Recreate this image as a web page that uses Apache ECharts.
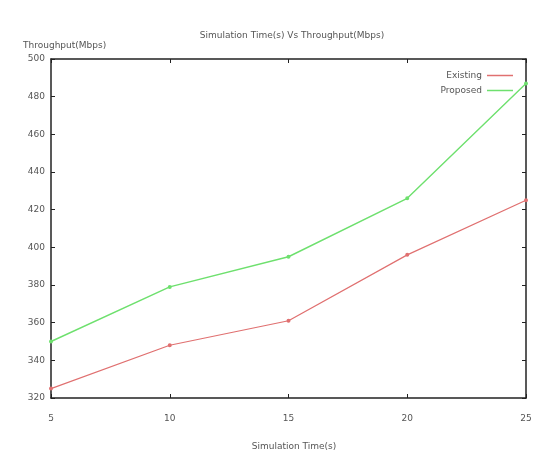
<!DOCTYPE html>
<html>
<head>
<meta charset="utf-8">
<script src="https://cdn.jsdelivr.net/npm/echarts@6/dist/echarts.min.js"></script>
<style>
  html, body { margin: 0; padding: 0; background: #fff; }
  #chart { width: 542px; height: 453px; }
</style>
</head>
<body>
<div id="chart"></div>
<script>
const simTime = [5, 10, 15, 20, 25]
const existing = [325, 348, 361, 396, 425]
const proposed = [350, 379, 395, 426, 487]

const labelColor = '#555'
const fontFamily = 'DejaVu Sans'

const chart = echarts.init(document.getElementById('chart'))

const pairs = (ys) => simTime.map((x, i) => [x, ys[i]])

const hiddenAxis = {
  axisLine: { show: false },
  axisLabel: { show: false },
  splitLine: { show: false },
  axisTick: { show: true, inside: true, length: 4, lineStyle: { color: '#222' } }
}

const option = {
  backgroundColor: '#fff',
  animation: false,
  title: [
    {
      text: 'Simulation Time(s) Vs Throughput(Mbps)',
      left: 287,
      top: 26,
      textAlign: 'center',
      textStyle: { color: labelColor, fontSize: 9, fontWeight: 'normal', fontFamily }
    },
    {
      text: 'Throughput(Mbps)',
      left: 18,
      top: 36,
      textStyle: { color: labelColor, fontSize: 9, fontWeight: 'normal', fontFamily }
    },
    {
      text: 'Simulation Time(s)',
      left: 289,
      top: 437,
      textAlign: 'center',
      textStyle: { color: labelColor, fontSize: 9, fontWeight: 'normal', fontFamily }
    }
  ],
  legend: {
    orient: 'vertical',
    right: 24,
    top: 66,
    align: 'right',
    icon: 'rect',
    itemWidth: 26,
    itemHeight: 1.5,
    itemGap: 6,
    textStyle: { color: labelColor, fontSize: 9, fontFamily },
    data: ['Existing', 'Proposed']
  },
  grid: { left: 51, right: 16, top: 59, bottom: 55 },
  xAxis: [
    {
      type: 'value',
      min: 5,
      max: 25,
      interval: 5,
      axisLine: { show: true, lineStyle: { color: '#222', width: 1.5 } },
      axisTick: { show: true, inside: true, length: 4, lineStyle: { color: '#222' } },
      axisLabel: { color: labelColor, fontSize: 9, fontFamily, margin: 16 },
      splitLine: { show: false }
    },
    Object.assign({ type: 'value', position: 'top', min: 5, max: 25, interval: 5 }, hiddenAxis,
      { axisLine: { show: true, lineStyle: { color: '#222', width: 1.5 } } })
  ],
  yAxis: [
    {
      type: 'value',
      min: 320,
      max: 500,
      interval: 20,
      axisLine: { show: true, lineStyle: { color: '#222', width: 1.5 } },
      axisTick: { show: true, inside: true, length: 4, lineStyle: { color: '#222' } },
      axisLabel: { color: labelColor, fontSize: 9, fontFamily, margin: 6 },
      splitLine: { show: false }
    },
    Object.assign({ type: 'value', position: 'right', min: 320, max: 500, interval: 20 }, hiddenAxis,
      { axisLine: { show: true, lineStyle: { color: '#222', width: 1.5 } } })
  ],
  series: [
    {
      name: 'Existing',
      type: 'line',
      data: pairs(existing),
      symbol: 'emptyCircle',
      symbolSize: 2,
      color: '#e07070',
      lineStyle: { width: 1.2 }
    },
    {
      name: 'Proposed',
      type: 'line',
      data: pairs(proposed),
      symbol: 'emptyCircle',
      symbolSize: 2,
      color: '#6ee06e',
      lineStyle: { width: 1.4 }
    }
  ]
}

chart.setOption(option)
</script>
</body>
</html>
